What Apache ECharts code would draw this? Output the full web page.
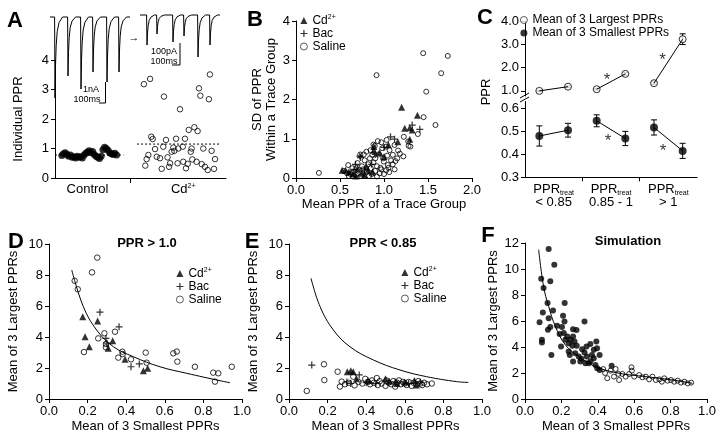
<!DOCTYPE html>
<html>
<head>
<meta charset="utf-8">
<script src="https://cdn.jsdelivr.net/npm/echarts@6/dist/echarts.min.js"></script>
<style>html,body{margin:0;padding:0;background:#fff}#chart{width:720px;height:436px}</style>
</head>
<body>
<div id="chart"></div>
<script>
const FONT = '"Liberation Sans", Arial, sans-serif';

// ---- A: individual PPRs (x = sweep index) ----
const ctrlPts = [[4,0.76],[5,0.82],[6,0.86],[7,0.8],[8,0.74],[9,0.78],[10,0.7],[11,0.72],[12,0.68],[13,0.74],[14,0.7],[15,0.72],[16,0.68],[17,0.78],[18,0.84],[19,0.88],[20,0.92],[21,0.86],[22,0.9],[23,0.8],[24,0.74],[25,0.7],[26,0.66],[27,0.74],[28,0.96],[29,1.04],[30,1.0],[31,0.94],[32,0.86],[33,0.82],[34,0.8],[35,0.84],[36,0.78]];
const cdPts = [[52,3.18],[55.6,3.36],[63.7,2.76],[73.1,2.33],[84.2,3.04],[85,2.79],[90,2.67],[90.6,3.51],[78.2,1.63],[81.5,1.72],[83.4,1.59],[56.3,1.4],[57.1,1.32],[64.9,1.29],[70.8,1.33],[76,1.33],[58.5,0.98],[63.3,1.06],[69.2,1.03],[69.8,0.92],[68.2,0.89],[72.1,1.0],[74.7,1.06],[79.9,1.0],[79.4,0.89],[86.7,1.0],[91.6,0.92],[54.6,0.78],[53.6,0.64],[52.8,0.42],[59.5,0.72],[61.4,0.67],[65.8,0.7],[62.4,0.31],[67.3,0.5],[66.7,0.38],[71.7,0.5],[75,0.55],[77.6,0.48],[76.6,0.33],[80.3,0.63],[82.8,0.55],[85.8,0.47],[87.7,0.38],[89.3,0.27],[93,0.31],[93.6,0.64]];
const ctrlMeanLine = [[0,0.78],[40,0.78]];
const cdMeanLine = [[48,1.15],[96,1.15]];
const aCatNames = ['Control', 'Cd2+'];
const aCatPos = [19, 75];
const aDivider = [44];
// example current traces: spike times and amplitudes
const ctrlSpikeT = [5,18,31,43,57,69];
const ctrlSpikeAmp = [-81,-59,-72,-55,-65,-55];
const cdSpikeT = [7,17,33,44,58,70];
const cdSpikeAmp = [-30,-19,-27,-21,-42,-30];
const spikeDt = [-0.4,0,0.5,1.2,2.2,4,7.5];
const spikeFrac = [0,1,0.6,0.35,0.18,0.07,0];

// ---- B: SD vs mean PPR ----
const bSaline = [[0.26,0.13],[0.915,2.62],[1.445,3.18],[1.725,3.11],[1.65,2.67],[1.48,2.2],[1.45,1.55],[1.585,1.35],[1.385,1.12],[1.28,0.82],[1.225,1.05],[1.275,0.93],[1.12,0.84],[1.03,0.97],[0.97,0.91],[0.93,0.94],[0.895,0.82],[0.98,0.76],[1.025,0.8],[1.063,0.71],[1.1,0.59],[1.15,0.5],[1.13,0.43],[1.036,0.57],[0.998,0.42],[1.043,0.33],[0.96,0.26],[1.025,0.2],[0.8,0.67],[0.847,0.71],[0.866,0.59],[0.593,0.33],[0.64,0.25],[0.543,0.18],[1.0,0.1],[1.06,0.15],[0.9,0.5],[0.88,0.4],[0.92,0.3],[0.85,0.25],[0.82,0.35],[0.78,0.45],[0.75,0.3],[0.72,0.2],[0.7,0.12],[0.68,0.08],[0.8,0.15],[0.86,0.1],[0.9,0.18],[0.95,0.12],[0.62,0.1],[0.66,0.16],[0.74,0.05],[0.83,0.05],[0.58,0.12],[0.6,0.05],[0.94,0.6],[0.99,0.5],[1.08,0.45],[1.18,0.62],[1.16,0.7],[0.88,0.85],[0.84,0.5],[0.7,0.38],[0.76,0.22],[1.05,0.26],[1.1,0.35],[0.92,0.04],[0.97,0.22],[0.77,0.6],[0.73,0.6],[1.12,0.22],[1.22,0.55],[1.3,0.8]];
const bCd = [[1.2,1.8],[1.38,1.6],[1.236,1.27],[1.293,1.28],[1.32,1.22],[1.293,0.99],[1.157,0.925],[0.885,0.71],[0.884,0.8],[0.5625,0.2],[0.525,0.2],[0.6,0.15],[0.65,0.1],[0.7,0.25],[0.75,0.12],[0.8,0.3],[0.68,0.05],[0.82,0.2],[0.95,0.65],[1.0,0.55],[1.05,0.85],[0.78,0.08],[0.87,0.15]];
const bBac = [[1.32,1.35],[1.12,0.99],[1.407,1.24],[1.074,1.05],[0.725,0.56],[0.676,0.35],[0.733,0.52],[0.78,0.2],[0.86,0.35],[0.62,0.1],[0.9,0.6],[0.66,0.22],[1.0,0.78]];

// ---- C: mean of 3 largest / smallest PPRs ----
const cGroupX = [[0.5,1.5],[2.5,3.5],[4.5,5.5]];
const cLargest = [[1.0,1.18],[1.07,1.73],[1.33,3.22]];
const cLargestErr = [[0.03,0.03],[0.03,0.06],[0.05,0.23]];
const cSmallest = [[0.48,0.505],[0.546,0.469],[0.517,0.415]];
const cSmallestErr = [[0.044,0.03],[0.026,0.031],[0.033,0.033]];
const cCats = ['< 0.85','0.85 - 1','> 1'];
const cStarsUpper = [[2.86,1.47],[4.8,2.3]];
const cStarsLower = [[2.9,0.458],[4.82,0.411]];

// ---- D: PPR > 1.0 ----
const dSaline = [[0.25,9.12],[0.223,8.17],[0.133,7.63],[0.149,7.08],[0.255,3.91],[0.287,4.24],[0.342,4.34],[0.295,3.55],[0.295,3.33],[0.181,3.03],[0.38,3.05],[0.382,2.9],[0.359,2.67],[0.425,2.56],[0.501,2.99],[0.506,2.34],[0.644,2.95],[0.662,3.06],[0.665,2.41],[0.756,2.08],[0.851,1.7],[0.877,1.66],[0.947,2.08],[0.86,1.12]];
const dCd = [[0.175,5.31],[0.252,5.03],[0.187,4.02],[0.33,3.76],[0.209,3.37],[0.307,3.27],[0.394,2.56],[0.489,1.83],[0.511,1.98]];
const dBac = [[0.264,5.6],[0.295,3.91],[0.363,4.66],[0.425,2.08],[0.468,2.26],[0.3,3.6]];
const dCurve = [[0.118,8.32],[0.178,5.96],[0.247,4.45],[0.333,3.38],[0.437,2.73],[0.575,2.08],[0.713,1.66],[0.886,1.18],[0.938,1.05]];

// ---- E: PPR < 0.85 ----
const eSaline = [[0.092,0.52],[0.181,2.24],[0.183,1.22],[0.252,1.76],[0.264,0.8],[0.273,1.12],[0.29,0.95],[0.31,1.05],[0.333,1.44],[0.34,0.88],[0.36,1.1],[0.38,1.0],[0.395,1.3],[0.41,1.1],[0.42,0.95],[0.43,1.2],[0.44,1.05],[0.455,1.35],[0.46,0.9],[0.47,1.15],[0.48,1.0],[0.5,0.85],[0.505,1.2],[0.515,1.05],[0.53,0.95],[0.54,1.15],[0.55,0.8],[0.56,1.05],[0.57,1.2],[0.58,0.95],[0.59,1.1],[0.6,1.0],[0.61,0.9],[0.62,1.1],[0.635,0.85],[0.645,1.05],[0.66,0.95],[0.67,1.15],[0.68,1.0],[0.69,0.9],[0.7,1.05],[0.715,0.95],[0.74,1.0]];
const eCd = [[0.302,1.76],[0.32,1.82],[0.333,1.76],[0.35,1.3],[0.41,1.2],[0.5,1.3],[0.52,1.15],[0.56,1.0],[0.6,1.1],[0.65,1.2],[0.66,0.9]];
const eBac = [[0.118,2.19],[0.364,1.55],[0.32,1.0],[0.4,1.05],[0.45,1.0],[0.55,1.1],[0.62,1.0],[0.68,1.1],[0.3,1.1]];
const eCurve = [[0.114,7.79],[0.161,5.96],[0.23,4.45],[0.316,3.37],[0.437,2.52],[0.575,1.87],[0.713,1.44],[0.869,1.12],[0.93,1.07]];

// ---- F: simulation ----
const fFilled = [[0.13,11.54],[0.161,10.33],[0.089,9.25],[0.139,9.05],[0.102,8.53],[0.124,7.38],[0.218,7.38],[0.098,6.66],[0.154,6.81],[0.13,6.22],[0.209,6.4],[0.217,5.96],[0.08,5.91],[0.139,5.53],[0.126,5.32],[0.176,5.63],[0.203,5.53],[0.093,4.55],[0.093,4.35],[0.145,3.39],[0.213,5.07],[0.264,5.37],[0.327,5.96],[0.198,4.03],[0.222,4.55],[0.24,4.29],[0.25,4.55],[0.264,4.81],[0.272,4.42],[0.26,4.09],[0.284,4.09],[0.24,3.65],[0.246,3.39],[0.314,3.83],[0.327,3.57],[0.338,4.04],[0.34,3.26],[0.359,4.24],[0.378,3.78],[0.368,3.39],[0.378,3.13],[0.392,4.42],[0.396,3.91],[0.41,3.39],[0.264,2.88],[0.304,2.88],[0.332,2.75],[0.35,2.75],[0.387,2.62],[0.397,2.37],[0.41,2.24],[0.295,3.26],[0.276,3.52],[0.232,4.81],[0.476,2.55],[0.283,5.3],[0.19,5.0],[0.31,3.1],[0.36,2.9]];
const fOpen = [[0.452,1.6],[0.47,2.18],[0.498,2.31],[0.513,1.93],[0.535,1.93],[0.553,1.72],[0.572,1.92],[0.587,2.18],[0.585,2.44],[0.6,1.72],[0.627,1.84],[0.645,1.67],[0.664,1.72],[0.682,1.51],[0.7,1.72],[0.719,1.46],[0.738,1.51],[0.752,1.33],[0.765,1.59],[0.783,1.41],[0.802,1.46],[0.82,1.33],[0.839,1.41],[0.857,1.26],[0.876,1.33],[0.894,1.2],[0.913,1.26],[0.517,1.46],[0.489,1.72],[0.43,2.3],[0.44,2.0]];
const fCurve = [[0.075,11.49],[0.102,8.66],[0.13,7.12],[0.167,5.58],[0.222,4.16],[0.296,3.26],[0.388,2.49],[0.517,1.98],[0.664,1.72],[0.811,1.46],[0.92,1.21]];

const PLUS = 'path://M3.3,0H4.7V3.3H8V4.7H4.7V8H3.3V4.7H0V3.3H3.3Z';
const openStyle = { color: 'rgba(255,255,255,0)', borderColor: '#000', borderWidth: 1 };
const black = { color: '#000' };

function axis(grid, min, max, interval, o) {
    o = o || {};
    return {
        type: 'value', gridIndex: grid, min: min, max: max, interval: interval,
        splitLine: { show: false },
        axisLine: { show: true, onZero: false, lineStyle: { color: '#000', width: 1 } },
        axisTick: Object.assign({ show: true, length: 4, lineStyle: { color: '#000' } }, o.tick),
        axisLabel: Object.assign({ color: '#000', fontSize: 13, fontFamily: FONT, margin: 6 }, o.label),
        name: o.name, nameLocation: 'middle', nameGap: o.gap,
        nameTextStyle: { color: '#000', fontSize: 13, fontFamily: FONT, lineHeight: 14 },
        show: o.show !== false
    };
}
const hidden = (grid, min, max) => ({ type: 'value', gridIndex: grid, min: min, max: max, show: false });
const fix1 = v => v.toFixed(1);

function trace(ts, amps, end) {
    const pts = [[0, 0]];
    ts.forEach((t, i) => spikeDt.forEach((d, k) => pts.push([t + d, amps[i] * spikeFrac[k]])));
    pts.push([end, 0]);
    return pts;
}

const supRich = { sup: { fontSize: 7, padding: [0, 0, 6, 0] } };
const legendFmt = n => n === 'Cd2+' ? 'Cd{sup|2+}' : n;
function legend(left, top, names) {
    return {
        data: names, left: left, top: top, orient: 'vertical', padding: 0,
        itemWidth: 7, itemHeight: 7, itemGap: 1, selectedMode: false,
        itemStyle: { borderWidth: 0.8 },
        formatter: legendFmt,
        textStyle: { color: '#000', fontSize: 12, fontFamily: FONT, lineHeight: 12, rich: supRich }
    };
}

const grids = [
    { left: 55, top: 60, width: 171, height: 118 },     // A scatter
    { left: 50, top: 10, width: 80, height: 95 },       // A control trace
    { left: 140, top: 8, width: 80, height: 57 },       // A Cd trace
    { left: 296, top: 21, width: 176, height: 157 },    // B
    { left: 525, top: 21, width: 172, height: 75 },     // C upper
    { left: 525, top: 101.5, width: 172, height: 75.8 },// C lower
    { left: 49, top: 244, width: 193, height: 155 },    // D
    { left: 289, top: 244, width: 193, height: 155 },   // E
    { left: 525, top: 243, width: 182, height: 156 }    // F
];

const xAxes = [
    axis(0, 0, 100, 50, {
        tick: { customValues: aDivider, length: 5 },
        label: { customValues: aCatPos, margin: 5, formatter: v => legendFmt(aCatNames[aCatPos.indexOf(v)]), rich: supRich }
    }),
    hidden(1, 0, 80),
    hidden(2, 0, 80),
    axis(3, 0, 2, 0.5, { label: { formatter: fix1 }, name: 'Mean PPR of a Trace Group', gap: 19 }),
    hidden(4, 0, 6),
    axis(5, 0, 6, 2, {
        tick: { customValues: [2, 4], length: 4 },
        label: {
            customValues: [1, 3, 5], margin: 6, lineHeight: 13,
            formatter: v => 'PPR{sub|treat}\n' + cCats[(v - 1) / 2],
            rich: { sub: { fontSize: 7, padding: [6, 0, 0, 0] } }
        }
    }),
    axis(6, 0, 1, 0.2, { label: { formatter: fix1 }, name: 'Mean of 3 Smallest PPRs', gap: 20 }),
    axis(7, 0, 1, 0.2, { label: { formatter: fix1 }, name: 'Mean of 3 Smallest PPRs', gap: 20 }),
    axis(8, 0, 1, 0.2, { label: { formatter: fix1 }, name: 'Mean of 3 Smallest PPRs', gap: 20 })
];

const yAxes = [
    axis(0, 0, 4, 1, { name: 'Individual PPR', gap: 30 }),
    hidden(1, -88, 7),
    hidden(2, -50, 7),
    axis(3, 0, 4, 1, { name: 'SD of PPR\nWithin a Trace Group', gap: 17 }),
    axis(4, 0.78, 4, 1, { tick: { customValues: [1, 2, 3, 4] }, label: { customValues: [1, 2, 3, 4], formatter: fix1 } }),
    axis(5, 0.3, 0.63, 0.1, { tick: { customValues: [0.3, 0.4, 0.5, 0.6] }, label: { customValues: [0.3, 0.4, 0.5, 0.6], formatter: fix1 } }),
    axis(6, 0, 10, 2, { name: 'Mean of 3 Largest PPRs', gap: 29 }),
    axis(7, 0, 10, 2, { name: 'Mean of 3 Largest PPRs', gap: 29 }),
    axis(8, 0, 12, 2, { name: 'Mean of 3 Largest PPRs', gap: 23 })
];

const series = [];
function scatter(g, name, data, symbol, size, style) {
    series.push({ type: 'scatter', name: name, xAxisIndex: g, yAxisIndex: g, data: data,
        symbol: symbol, symbolSize: size, itemStyle: style, silent: true });
}
function line(g, data, extra) {
    series.push(Object.assign({ type: 'line', xAxisIndex: g, yAxisIndex: g, data: data, showSymbol: false,
        symbol: 'none', lineStyle: { color: '#000', width: 1 }, silent: true }, extra));
}

// A
scatter(0, 'Control', ctrlPts, 'circle', 7, black);
scatter(0, 'Cd', cdPts, 'circle', 5.5, openStyle);
line(0, ctrlMeanLine, { lineStyle: { color: '#000', width: 1, type: [2, 2] } });
line(0, cdMeanLine, { lineStyle: { color: '#000', width: 1, type: [2, 2] } });
line(1, trace(ctrlSpikeT, ctrlSpikeAmp, 80));
line(2, trace(cdSpikeT, cdSpikeAmp, 80));

// B
scatter(3, 'Saline', bSaline, 'circle', 5, openStyle);
scatter(3, 'Bac', bBac, PLUS, 7, black);
scatter(3, 'Cd2+', bCd, 'triangle', 7, black);

// C
cGroupX.forEach((xs, i) => {
    line(4, xs.map((x, k) => [x, cLargest[i][k]]));
    line(5, xs.map((x, k) => [x, cSmallest[i][k]]));
});
function errBars(g, means, errs) {
    const data = [];
    cGroupX.forEach((xs, i) => xs.forEach((x, k) => data.push([x, means[i][k], errs[i][k]])));
    series.push({
        type: 'custom', xAxisIndex: g, yAxisIndex: g, data: data, silent: true,
        renderItem: (params, api) => {
            const x = api.value(0), m = api.value(1), e = api.value(2);
            const a = api.coord([x, m + e]), b = api.coord([x, m - e]);
            const st = { stroke: '#000', lineWidth: 1 };
            return { type: 'group', children: [
                { type: 'line', shape: { x1: a[0], y1: a[1], x2: b[0], y2: b[1] }, style: st },
                { type: 'line', shape: { x1: a[0] - 3, y1: a[1], x2: a[0] + 3, y2: a[1] }, style: st },
                { type: 'line', shape: { x1: b[0] - 3, y1: b[1], x2: b[0] + 3, y2: b[1] }, style: st }
            ] };
        }
    });
}
errBars(4, cLargest, cLargestErr);
errBars(5, cSmallest, cSmallestErr);
const flat = (m) => cGroupX.flatMap((xs, i) => xs.map((x, k) => [x, m[i][k]]));
scatter(4, 'Mean of 3 Largest PPRs', flat(cLargest), 'circle', 7, { color: '#fff', borderColor: '#000', borderWidth: 1 });
scatter(5, 'Mean of 3 Smallest PPRs', flat(cSmallest), 'circle', 8, black);
[[4, cStarsUpper], [5, cStarsLower]].forEach(([g, d]) => series.push({
    type: 'scatter', xAxisIndex: g, yAxisIndex: g, data: d, symbolSize: 0, silent: true,
    label: { show: true, position: 'inside', formatter: '*', color: '#000', fontSize: 17, fontFamily: FONT }
}));

// D, E
[[6, dSaline, dBac, dCd, dCurve], [7, eSaline, eBac, eCd, eCurve]].forEach(([g, s, b, c, cv]) => {
    line(g, cv, { smooth: 0.4 });
    scatter(g, 'Saline', s, 'circle', 5.5, openStyle);
    scatter(g, 'Bac', b, PLUS, 7, black);
    scatter(g, 'Cd2+', c, 'triangle', 7, black);
});

// F
scatter(8, 'Sim small', fFilled, 'circle', 6, black);
scatter(8, 'Sim open', fOpen, 'circle', 5, openStyle);
line(8, fCurve, { smooth: 0.4 });

const txt = (x, y, text, size, bold, extra) => Object.assign({
    type: 'text', x: x, y: y, silent: true,
    style: { text: text, fontSize: size, fontWeight: bold ? 'bold' : 'normal', fontFamily: FONT,
        fill: '#000', align: 'center', verticalAlign: 'middle' }
}, extra);
const seg = (x1, y1, x2, y2) => ({ type: 'line', silent: true, shape: { x1, y1, x2, y2 }, style: { stroke: '#000', lineWidth: 1 } });

const graphic = [
    txt(15, 21, 'A', 22, true), txt(255, 20, 'B', 22, true), txt(485, 18, 'C', 22, true),
    txt(16, 242, 'D', 22, true), txt(252, 242, 'E', 22, true), txt(488, 236, 'F', 22, true),
    txt(147, 243, 'PPR > 1.0', 13, true), txt(383, 243, 'PPR < 0.85', 13, true), txt(628, 241, 'Simulation', 13, true),
    txt(486, 92, 'PPR', 13, false, { rotation: Math.PI / 2 }),
    // scale bars
    seg(105.5, 82, 105.5, 103), seg(99, 103, 105.5, 103),
    txt(91, 90, '1nA', 9, false), txt(87, 100, '100ms', 9, false),
    seg(180, 43, 180, 65), seg(172, 65, 180, 65),
    txt(164, 52, '100pA', 9, false), txt(164, 62, '100ms', 9, false),
    txt(134, 38, '\u2192', 11, true),
    // axis break on C
    seg(520, 98, 529, 93), seg(520, 102, 529, 97)
];

const chart = echarts.init(document.getElementById('chart'), null, { renderer: 'canvas' });
chart.setOption({
    animation: false,
    backgroundColor: '#fff',
    textStyle: { fontFamily: FONT },
    grid: grids,
    xAxis: xAxes,
    yAxis: yAxes,
    legend: [
        legend(300, 14, ['Cd2+', 'Bac', 'Saline']),
        legend(520, 14, ['Mean of 3 Largest PPRs', 'Mean of 3 Smallest PPRs']),
        legend(176, 267, ['Cd2+', 'Bac', 'Saline']),
        legend(401, 266, ['Cd2+', 'Bac', 'Saline'])
    ],
    graphic: graphic,
    series: series
});
</script>
</body>
</html>
